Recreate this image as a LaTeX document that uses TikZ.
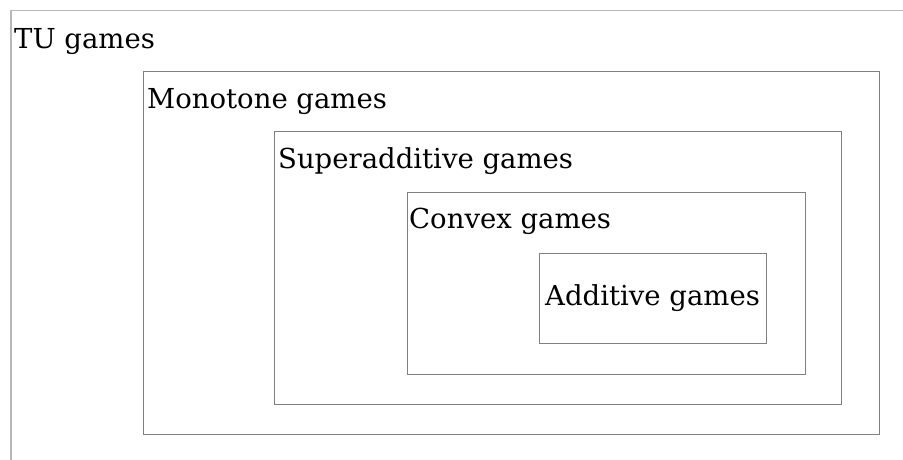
\documentclass[tikz,border=0pt]{standalone}
\usepackage{fontspec}
\setmainfont{DejaVu Serif}
\usetikzlibrary{positioning}

\begin{document}
\begin{tikzpicture}[x=1pt, y=-1pt]
    \tikzstyle{gamebox} = [draw=black!50, line width=1pt, anchor=north west, inner sep=0pt]
    \tikzstyle{gamelabel} = [anchor=base west, inner sep=0pt, font=\fontsize{27.5}{33}\selectfont]
    \useasboundingbox (0, 0) rectangle (903, 460);
    \clip (0, 0) rectangle (903, 460);
    \node[draw=black!28, line width=1.5pt, anchor=north west, minimum width=950pt, minimum height=500pt] (tu) at (10, 10) {};
    \node[gamebox, minimum width=736pt, minimum height=363pt] (mono) at (143, 71) {};
    \node[gamebox, minimum width=567pt, minimum height=273pt] (super) at (274, 131) {};
    \node[gamebox, minimum width=398pt, minimum height=182pt] (convex) at (407, 192) {};
    \node[gamebox, minimum width=227pt, minimum height=90pt] (add) at (539, 253) {};

    \node[gamelabel] (tulabel) at (14, 49) {TU games};
    \node[gamelabel] (monolabel) at (147, 108) {Monotone games};
    \node[gamelabel] (superlabel) at (278, 168) {Superadditive games};
    \node[gamelabel] (convexlabel) at (409, 228) {Convex games};
    \node[gamelabel] (addlabel) at (545, 305) {Additive games};
\end{tikzpicture}
\end{document}
